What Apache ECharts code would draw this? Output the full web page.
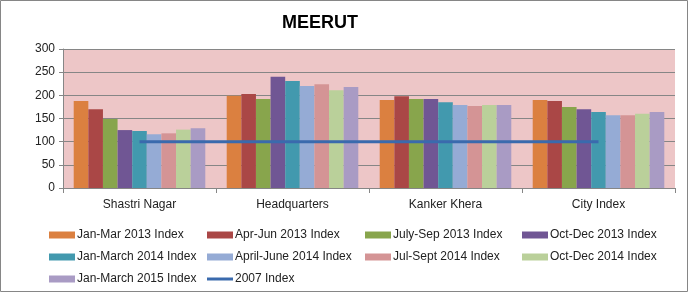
<!DOCTYPE html>
<html><head><meta charset="utf-8">
<script src="https://cdn.jsdelivr.net/npm/echarts@6/dist/echarts.min.js"></script>
<style>html,body{margin:0;padding:0;background:#fff}#c{width:688px;height:292px}</style>
</head><body><div id="c"></div>
<script>
const categories = ['Shastri Nagar', 'Headquarters', 'Kanker Khera', 'City Index'];
const yTicks = [0, 50, 100, 150, 200, 250, 300];
const janMar2013 = [188, 199, 190, 190];
const aprJun2013 = [170, 203, 198, 188];
const julSep2013 = [149, 192, 192, 175];
const octDec2013 = [125, 240, 192, 170];
const janMar2014 = [123, 231, 185, 164];
const aprJun2014 = [116, 220, 179, 157];
const julSep2014 = [118, 224, 177, 157];
const octDec2014 = [126, 211, 179, 160];
const janMar2015 = [129, 218, 179, 164];
const index2007 = [100, 100, 100, 100];

const barSeries = [
  ['Jan-Mar 2013 Index', janMar2013, '#DB8040'],
  ['Apr-Jun 2013 Index', aprJun2013, '#AA4746'],
  ['July-Sep 2013 Index', julSep2013, '#88A54C'],
  ['Oct-Dec 2013 Index', octDec2013, '#705694'],
  ['Jan-March 2014 Index', janMar2014, '#4299AE'],
  ['April-June 2014 Index', aprJun2014, '#95ABD5'],
  ['Jul-Sept 2014 Index', julSep2014, '#D49495'],
  ['Oct-Dec 2014 Index', octDec2014, '#BAD09A'],
  ['Jan-March 2015 Index', janMar2015, '#A99BC4']
];
const lineName = '2007 Index';
const lineColor = '#3A6AAD';

const font = 'Liberation Sans, Arial, sans-serif';
const series = barSeries.map(([name, data, color]) => ({
  name, type: 'bar', data, barGap: '0%', barCategoryGap: '14%',
  itemStyle: { color }, animation: false
}));
series.push({
  name: lineName, type: 'line', data: index2007, symbol: 'none',
  lineStyle: { color: lineColor, width: 3 }, itemStyle: { color: lineColor }, animation: false, z: 5
});

const lineIcon = 'path://M0,0H26V3H0Z';
const legendNames = barSeries.map(s => s[0]).concat([lineName]);
const colX = [49, 207, 365, 522];
const rowY = [229, 251, 273];
const legends = legendNames.map((n, i) => ({
  left: colX[i % 4], top: rowY[Math.floor(i / 4)], itemWidth: 26, itemHeight: 7,
  padding: 0, selectedMode: false,
  textStyle: { fontFamily: font, fontSize: 12, color: '#222', padding: [0, 0, 0, -3] },
  data: [n === lineName ? { name: n, icon: lineIcon } : { name: n, icon: 'rect' }]
}));

const chart = echarts.init(document.getElementById('c'), null, { renderer: 'canvas' });
chart.setOption({
  backgroundColor: '#fff',
  animation: false,
  title: {
    text: 'MEERUT', left: 315, top: 9, textAlign: 'center',
    textStyle: { fontFamily: font, fontSize: 18, fontWeight: 'bold', color: '#000' }
  },
  graphic: [{
    type: 'rect', shape: { x: 0.5, y: 0.5, width: 687, height: 291 },
    style: { fill: 'none', stroke: '#868686', lineWidth: 1 }, silent: true
  }],
  legend: legends,
  grid: { left: 63, right: 13, top: 49, bottom: 104, show: true, backgroundColor: '#EDC6C7', borderWidth: 0 },
  xAxis: {
    type: 'category', data: categories,
    axisLine: { lineStyle: { color: '#868686' } },
    axisTick: { show: true, length: 5, lineStyle: { color: '#868686' } },
    axisLabel: { fontFamily: font, fontSize: 12, color: '#222', margin: 11 }
  },
  yAxis: {
    type: 'value', min: yTicks[0], max: yTicks[yTicks.length - 1], interval: 50,
    axisLine: { show: true, lineStyle: { color: '#868686' } },
    axisTick: { show: true, length: 4, lineStyle: { color: '#868686' } },
    splitLine: { lineStyle: { color: '#868686' } },
    axisLabel: { fontFamily: font, fontSize: 12, color: '#222', margin: 8 }
  },
  series
});
</script></body></html>
